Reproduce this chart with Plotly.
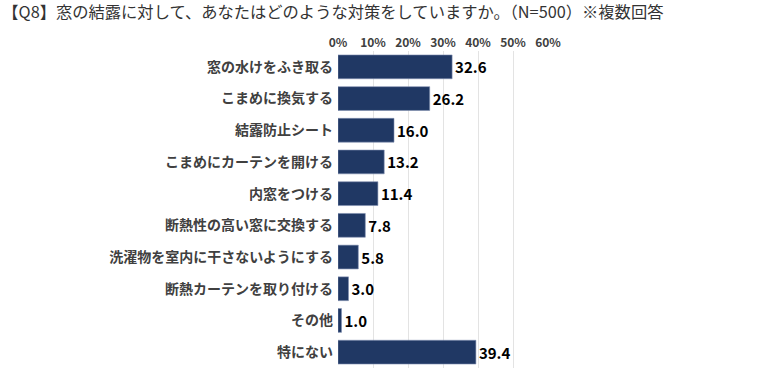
import plotly.graph_objects as go

categories = ["窓の水けをふき取る", "こまめに換気する", "結露防止シート", "こまめにカーテンを開ける",
              "内窓をつける", "断熱性の高い窓に交換する", "洗濯物を室内に干さないようにする",
              "断熱カーテンを取り付ける", "その他", "特にない"]
values = [32.6, 26.2, 16.0, 13.2, 11.4, 7.8, 5.8, 3.0, 1.0, 39.4]
tick_vals = [0, 10, 20, 30, 40, 50, 60]
tick_text = ["0%", "10%", "20%", "30%", "40%", "50%", "60%"]
title = "【Q8】窓の結露に対して、あなたはどのような対策をしていますか。（N=500）※複数回答"

font_family = "Noto Sans CJK JP"

fig = go.Figure(go.Bar(
    y=categories, x=values, orientation="h",
    marker=dict(color="#203864", line=dict(color="#7f8fb0", width=0.6)),
    width=0.75,
    text=[f"{v:.1f}" for v in values], textposition="outside",
    textfont=dict(family=font_family, size=15, color="#000000", weight="bold"),
    cliponaxis=False,
))

fig.update_layout(
    width=757, height=368,
    margin=dict(l=338, r=209, t=51, b=0),
    paper_bgcolor="white", plot_bgcolor="white",
    showlegend=False,
    font=dict(family=font_family, color="#333333"),
    title=dict(text=title, x=0.003, xanchor="left", y=0.982, yanchor="top",
               font=dict(family=font_family, size=16.3, color="#333333")),
    xaxis=dict(side="top", range=[0, 60], tickvals=tick_vals, ticktext=tick_text,
               showgrid=True, gridcolor="#e3e3e3", gridwidth=1, zeroline=False,
               showline=False, ticks="", ticklabelstandoff=1,
               tickfont=dict(family=font_family, size=12, color="#404040", weight="bold")),
    yaxis=dict(categoryorder="array", categoryarray=categories, autorange="reversed",
               showgrid=False, zeroline=False, showline=False, ticks="",
               ticklabelstandoff=4,
               tickfont=dict(family=font_family, size=14, color="#404040", weight="bold")),
)

fig.write_html("out.html", config={"displayModeBar": False},
               post_script="document.body.style.margin='0';document.body.style.overflow='hidden';")
